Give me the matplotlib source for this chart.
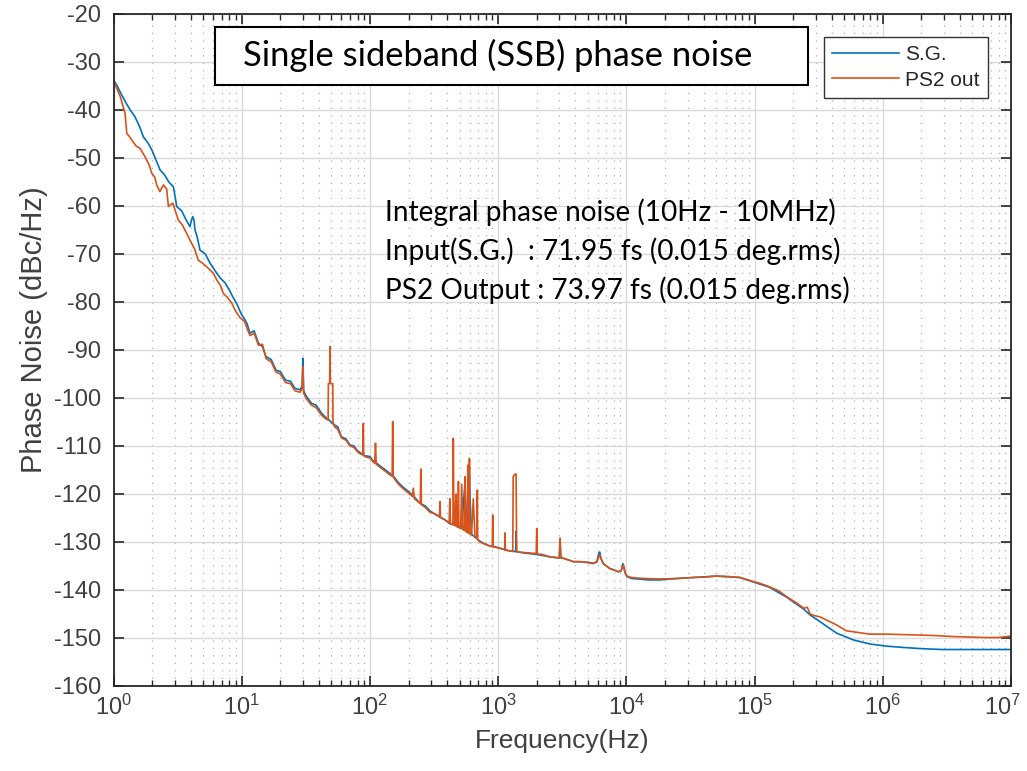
import matplotlib
matplotlib.use("Agg")
import matplotlib.pyplot as plt
from matplotlib.patches import Rectangle
from matplotlib.ticker import LogLocator, NullFormatter
from matplotlib.transforms import ScaledTranslation
import numpy as np

# ---------------- data ----------------
sg_f_low = [1, 1.07, 1.14, 1.25, 1.35, 1.47, 1.6, 1.71, 1.85, 1.99, 2.15, 2.31, 2.5, 2.7, 2.93, 3.0,
            3.11, 3.4, 3.7, 3.95, 4.05, 4.15, 4.25, 4.32, 4.5, 4.73, 5.2, 5.66, 6.2, 6.8, 7.41, 8.0,
            8.55, 9.2, 10]
sg_db_low = [-33.7, -35.0, -36.5, -38.5, -40.0, -41.4, -43.5, -45.6, -46.8, -48.3, -50.5, -52.5, -53.5,
             -55.0, -56.0, -57.5, -60.1, -61.0, -63.0, -64.3, -63.0, -62.2, -63.0, -65.0, -66.5, -69.2,
             -70.0, -71.9, -73.5, -75.0, -76.0, -77.5, -79.0, -80.5, -82.7]

sg_f_mid = [10.5, 11.0, 11.6, 12.5, 13.5, 14.5, 15.5, 17, 18.5, 20, 22, 24, 26, 28.5, 29.6, 30, 30.4,
            32, 35, 38, 42, 45, 48, 52, 56, 60, 65, 70, 75, 80, 85, 90, 100, 105, 112, 118, 125, 135,
            143, 155, 165, 180, 200, 220, 245, 270, 294]
sg_db_mid = [-83.5, -84.5, -86.5, -86.0, -88.6, -89.3, -91.4, -92.0, -94.2, -94.5, -96.3, -96.5, -98.0,
             -98.3, -97.5, -91.7, -98.5, -99.7, -101.1, -101.5, -103.2, -104.0, -104.6, -105.5, -106.0,
             -108.1, -108.5, -109.8, -110.0, -111.0, -111.5, -112.0, -112.2, -113.0, -113.5, -114.0,
             -114.5, -115.2, -115.7, -116.5, -117.5, -118.5, -119.5, -120.5, -121.9, -122.5, -123.5]

sg_f_spur = [313, 350, 380, 420, 460, 520, 550, 570, 590, 596, 602, 620, 660, 720, 770, 850, 950, 1030,
             1200, 1370, 1380, 1390, 1450, 1600, 1880, 2100, 2540, 3000, 3040, 3080]
sg_db_spur = [-124.0, -124.8, -125.3, -126.2, -126.5, -127.2, -118.0, -127.5, -117.0, -114.3, -120.0,
              -128.4, -129.0, -129.8, -130.3, -130.8, -131.0, -131.3, -131.8, -132.0, -127.8, -132.0,
              -132.1, -132.3, -132.5, -132.7, -133.1, -133.3, -129.5, -133.3]

sg_f_high = [3240, 3860, 4370, 5000, 5530, 5900, 6100, 6200, 6350, 6600, 7000, 7400, 8630, 9100, 9400,
             9800, 10100, 11000, 13500, 15000, 18300, 22000, 25000, 33000, 50000, 77000, 97000, 130000,
             178000, 242000, 271000, 324000, 380000, 438000, 520000, 590000, 700000, 796000, 1.07e6,
             1.5e6, 1.94e6, 2.9e6, 3.5e6, 6.4e6, 1e7]
sg_db_high = [-133.4, -134.1, -134.1, -134.3, -134.5, -134.0, -132.3, -132.1, -133.5, -134.5, -135.0,
              -135.5, -136.2, -136.0, -134.5, -136.5, -137.2, -137.6, -137.8, -137.9, -137.9, -137.7,
              -137.6, -137.4, -137.1, -137.4, -138.3, -139.4, -141.5, -144.0, -145.2, -146.6, -147.9,
              -149.0, -149.8, -150.4, -150.9, -151.25, -151.7, -152.0, -152.2, -152.4, -152.4, -152.4,
              -152.4]

ps2_f_low = [1, 1.06, 1.13, 1.18, 1.23, 1.27, 1.33, 1.39, 1.5, 1.61, 1.76, 1.9, 1.99, 2.1, 2.17, 2.3,
             2.45, 2.6, 2.68, 2.9, 3.2, 3.45, 3.72, 4.07, 4.3, 4.58, 5.0, 5.66, 6.0, 6.39, 6.8, 7.18,
             7.7, 8.35, 9.0, 9.72]
ps2_db_low = [-33.7, -35.5, -37.2, -39.0, -40.7, -44.9, -45.5, -46.3, -47.5, -48.0, -49.7, -51.5, -53.2,
              -54.0, -55.6, -57.0, -55.6, -56.5, -60.1, -59.4, -62.9, -64.0, -65.7, -67.8, -69.0, -71.3,
              -72.0, -73.3, -74.0, -75.4, -76.5, -78.2, -79.0, -80.2, -82.0, -83.3]

ps2_f_mid = [10.5, 11.0, 11.6, 12.5, 13.5, 14.5, 15.5, 17, 18.5, 20, 22, 24, 26, 28.5, 29.6, 30, 30.4,
             32, 35, 38, 42, 45, 47.2, 47.4, 48.5, 48.8, 49.1, 51.3, 51.5, 53, 56, 60, 65, 70, 75, 80,
             85, 88.2, 88.8, 89.4, 93, 100, 105, 109, 110.5, 112, 118, 125, 135, 143, 149, 150.5, 152,
             165, 180, 200, 214, 218, 222, 235, 247, 249.5, 252, 270, 294]
ps2_db_mid = [-84.0, -85.5, -87.0, -86.5, -89.0, -88.8, -91.8, -92.5, -94.6, -95.0, -96.8, -97.0, -98.5,
              -98.8, -98.0, -93.5, -99.0, -100.2, -101.5, -102.0, -103.6, -104.3, -104.6, -97.0, -97.0,
              -89.3, -97.0, -97.0, -105.0, -106.0, -106.5, -108.3, -108.8, -110.0, -110.3, -111.2,
              -111.7, -111.8, -105.3, -112.0, -112.3, -112.5, -113.2, -113.6, -109.4, -113.8, -114.3,
              -114.8, -115.5, -116.0, -116.3, -104.9, -116.5, -117.8, -118.8, -119.8, -120.5, -118.8,
              -121.0, -121.5, -122.0, -114.8, -122.2, -122.8, -123.8]

ps2_f_spur = [313, 330, 345, 349, 352, 355, 380, 405, 415, 420, 425, 440, 444, 447, 450, 458, 465, 470,
              475, 485, 490, 495, 510, 520, 530, 545, 552, 560, 575, 580, 585, 592, 597, 602, 620, 640,
              660, 684, 688, 692, 720, 770, 850, 900, 907, 914, 960, 1030, 1100, 1126, 1132, 1138, 1200,
              1280, 1300, 1310, 1340, 1380, 1395, 1450, 1600, 1800, 1980, 2000, 2020, 2200, 2540, 2900,
              3000, 3040, 3080]
ps2_db_spur = [-124.0, -124.3, -124.6, -124.6, -121.6, -124.8, -125.3, -125.8, -126.0, -121.0, -126.2,
               -126.3, -126.4, -108.4, -120.0, -126.5, -126.6, -120.0, -126.8, -126.9, -117.4, -127.0,
               -127.2, -118.0, -127.4, -127.6, -116.4, -127.8, -128.0, -114.0, -128.1, -128.2, -112.6,
               -128.3, -128.5, -121.0, -129.0, -129.2, -119.2, -129.5, -130.0, -130.3, -130.8, -131.0,
               -124.4, -131.0, -131.1, -131.3, -131.5, -131.6, -128.1, -131.7, -131.8, -131.9, -132.0,
               -116.4, -116.0, -115.8, -132.0, -132.1, -132.2, -132.3, -132.4, -127.2, -132.5, -132.6,
               -133.1, -133.3, -133.3, -129.2, -133.3]

ps2_f_high = [3240, 3600, 3860, 4370, 5000, 5530, 5900, 6100, 6200, 6350, 6600, 7000, 7400, 8000, 8630,
              9100, 9500, 9800, 10100, 11000, 13500, 18300, 25000, 33000, 42000, 50000, 63000, 77000,
              97000, 110000, 130000, 155000, 178000, 210000, 242000, 258000, 271000, 290000, 324000,
              380000, 438000, 520000, 590000, 700000, 796000, 1.07e6, 1.5e6, 1.94e6, 2.6e6, 3.5e6,
              4.8e6, 6.4e6, 8e6, 1e7]
ps2_db_high = [-133.4, -133.8, -134.1, -134.1, -134.2, -134.4, -134.2, -133.0, -132.7, -133.5, -134.5,
               -135.0, -135.5, -135.8, -136.2, -136.0, -134.8, -136.5, -137.1, -137.4, -137.6, -137.7,
               -137.6, -137.4, -137.3, -137.1, -137.2, -137.4, -138.2, -138.6, -139.3, -140.2, -141.4,
               -142.6, -143.8, -143.6, -145.0, -145.3, -145.6, -146.5, -147.3, -148.5, -148.7, -149.0,
               -149.2, -149.2, -149.3, -149.4, -149.5, -149.7, -149.8, -149.9, -149.9, -149.6]

series_labels = ["S.G.", "PS2 out"]
y_ticks = [-160, -150, -140, -130, -120, -110, -100, -90, -80, -70, -60, -50, -40, -30, -20]
x_ticks = [1, 10, 100, 1e3, 1e4, 1e5, 1e6, 1e7]
title_text = "Single sideband (SSB) phase noise"
note_lines = ["Integral phase noise (10Hz - 10MHz)",
              "Input(S.G.)  : 71.95 fs (0.015 deg.rms)",
              "PS2 Output : 73.97 fs (0.015 deg.rms)"]

sg_f = sg_f_low + sg_f_mid + sg_f_spur + sg_f_high
sg_db = sg_db_low + sg_db_mid + sg_db_spur + sg_db_high
ps2_f = ps2_f_low + ps2_f_mid + ps2_f_spur + ps2_f_high
ps2_db = ps2_db_low + ps2_db_mid + ps2_db_spur + ps2_db_high

# ---------------- figure ----------------
plt.rcParams['font.family'] = ['Liberation Sans', 'DejaVu Sans']
plt.rcParams['axes.unicode_minus'] = False
W, H = 1027, 771
fig = plt.figure(figsize=(W / 100, H / 100), dpi=100)
ax = fig.add_axes([113.5 / W, 1 - 686 / H, (1011 - 113.5) / W, (686 - 14) / H])

blue = '#0072BD'
orange = '#D95319'
ax.plot(sg_f, sg_db, color=blue, lw=1.2, label=series_labels[0])
ax.plot(ps2_f, ps2_db, color=orange, lw=1.2, label=series_labels[1])

ax.set_xscale('log')
ax.set_xlim(1, 1e7)
ax.set_ylim(-160, -20)
ax.set_yticks(y_ticks)
ax.set_xticks(x_ticks)
ax.xaxis.set_minor_locator(LogLocator(base=10, subs=np.arange(2, 10), numticks=100))
ax.xaxis.set_minor_formatter(NullFormatter())

ax.grid(True, which='major', color='#d9d9d9', lw=1.0)
ax.grid(True, which='minor', axis='x', color='#b0b0b0', lw=0.9, ls=(0, (1, 5)))
ax.set_axisbelow(True)

axcol = '#262626'
for s in ax.spines.values():
    s.set_color(axcol)
    s.set_linewidth(1.3)
ax.tick_params(which='both', direction='in', top=True, right=True, colors=axcol,
               labelcolor='#404040')
ax.tick_params(which='major', length=7, width=1.2)
ax.tick_params(which='minor', length=4, width=1.0)
ax.tick_params(axis='x', pad=6, labelsize=17)
ax.tick_params(axis='y', pad=9, labelsize=17)

# keep the last decade label inside the figure
fig.canvas.draw()
xlabels = ax.get_xticklabels()
xlabels[-1].set_transform(xlabels[-1].get_transform() +
                          ScaledTranslation(-9 / 100, 0, fig.dpi_scale_trans))

ax.set_xlabel('Frequency(Hz)', fontsize=19, color='#404040', labelpad=7)
ax.set_ylabel('Phase Noise (dBc/Hz)', fontsize=21, color='#404040', labelpad=6)
ax.yaxis.set_label_coords(-0.073, 0.53)

leg = ax.legend(loc='upper right', bbox_to_anchor=((988 - 113.5) / 897.5, (686 - 37) / 672),
                fontsize=15, frameon=True, fancybox=False, framealpha=1, edgecolor='#333333',
                handlelength=3.2, borderpad=0.4, labelspacing=0.3, handletextpad=0.3,
                borderaxespad=0)
leg.get_frame().set_linewidth(1.0)
for t in leg.get_texts():
    t.set_color('#262626')

# Title box
fig.add_artist(Rectangle((215 / W, 1 - 85 / H), (808 - 215) / W, 58 / H, transform=fig.transFigure,
                         facecolor='white', edgecolor='black', lw=1.5, zorder=5))
fig.text(243 / W, 1 - 55 / H, title_text, fontsize=24.8, family=['Lato', 'DejaVu Sans'],
         ha='left', va='center', color='black', zorder=6)

for i, line in enumerate(note_lines):
    fig.text(385 / W, 1 - (212 + 39 * i) / H, line, fontsize=20.2, family=['Lato', 'DejaVu Sans'],
             ha='left', va='center', color='black', zorder=6)

fig.savefig('out.png', dpi=100, facecolor='white')
